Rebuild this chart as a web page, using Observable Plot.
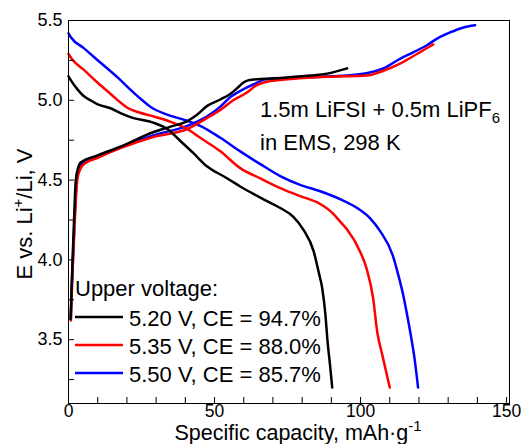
<!DOCTYPE html>
<html>
<head>
<meta charset="utf-8">
<script src="https://cdn.jsdelivr.net/npm/d3@7"></script>
<script src="https://cdn.jsdelivr.net/npm/@observablehq/plot@0.6"></script>
<style>
  html, body { margin: 0; padding: 0; background: #fff; }
  #chart { width: 521px; height: 444px; }
  svg text { font-family: "Liberation Sans", Arial, sans-serif; }
</style>
</head>
<body>
<div id="chart"></div>
<script>
// ---- Data (capacity mAh/g, E in V) ----
const seriesNames = ["5.20 V", "5.35 V", "5.50 V"];
const ceValues = ["94.7%", "88.0%", "85.7%"];
const seriesColors = ["#000000", "#ff0000", "#0000ff"];

const charge520 = [[0.7,3.63],[1.1,3.85],[1.5,4.05],[2.0,4.3],[2.5,4.5],[3.2,4.57],[4.2,4.61],[10,4.655],[17.8,4.71],[29,4.80],[35,4.835],[40.7,4.87],[44,4.91],[47.5,4.965],[52,5.005],[55.4,5.04],[58,5.08],[59.8,5.11],[61.5,5.125],[63.3,5.13],[72.5,5.14],[82.8,5.155],[88.6,5.167],[95.4,5.20]];
const charge535 = [[0.8,3.62],[1.2,3.85],[1.7,4.05],[2.3,4.3],[3.0,4.5],[3.8,4.56],[5,4.595],[10,4.64],[17.8,4.70],[29,4.77],[40.7,4.82],[47.5,4.89],[52,4.94],[56.4,5.0],[61.2,5.05],[64,5.09],[66.5,5.11],[69,5.12],[77,5.135],[90,5.148],[102,5.155],[107.8,5.185],[113.5,5.23],[119.3,5.29],[124.9,5.35]];
const charge550 = [[0.8,3.63],[1.2,3.85],[1.6,4.05],[2.2,4.3],[2.8,4.5],[3.6,4.57],[4.7,4.60],[10,4.645],[17.8,4.705],[29,4.78],[40.7,4.84],[47.5,4.9],[52,4.96],[55.4,5.02],[60,5.07],[64.6,5.11],[67,5.13],[77,5.14],[90,5.15],[102,5.17],[107.8,5.20],[113.5,5.26],[118,5.30],[122.7,5.345],[126.5,5.39],[130.6,5.425],[135,5.455],[139.2,5.47]];

const discharge520 = [[0,5.15],[1,5.12],[3,5.07],[5,5.03],[7.5,5.0],[10,4.975],[14.4,4.95],[17.8,4.92],[22,4.89],[29,4.86],[33.8,4.82],[38.3,4.745],[42.7,4.67],[47.5,4.585],[50,4.555],[52,4.535],[54.4,4.51],[58.8,4.46],[65.7,4.39],[72.5,4.325],[77,4.27],[80.4,4.19],[84,4.05],[85.7,3.92],[86.9,3.82],[88,3.65],[88.6,3.51],[89.5,3.35],[90.3,3.2]];
const discharge535 = [[0,5.29],[1.3,5.255],[5,5.195],[10,5.11],[15,5.03],[17.5,4.99],[20,4.955],[24,4.925],[29,4.9],[35,4.865],[40.7,4.82],[45.1,4.765],[52,4.68],[58.8,4.575],[65.7,4.51],[72.5,4.45],[79.3,4.40],[86.2,4.35],[90.6,4.29],[93,4.24],[95.4,4.19],[99.9,4.05],[102,3.95],[104.3,3.76],[105.7,3.55],[107.5,3.4],[110,3.2]];
const discharge550 = [[0,5.42],[1,5.39],[5,5.33],[11,5.235],[17,5.14],[21,5.07],[24,5.02],[28,4.96],[33.8,4.91],[40,4.875],[45.1,4.84],[52,4.765],[58.8,4.68],[65.7,4.60],[72.5,4.525],[79.3,4.47],[86.2,4.43],[93,4.38],[98.8,4.325],[103.3,4.26],[106.7,4.18],[111,4.03],[113,3.9],[114.6,3.78],[116,3.65],[117,3.55],[118.5,3.38],[119.7,3.2]];

const capacityTickLabels = [0, 50, 100, 150];
const capacityMinorTicks = [0,10,20,30,40,50,60,70,80,90,100,110,120,130,140,150];
const voltageTickLabels = [3.5, 4.0, 4.5, 5.0, 5.5];
const voltageMinorTicks = [3.25,3.5,3.75,4.0,4.25,4.5,4.75,5.0,5.25,5.5];

// ---- Build table ----
const curves = [
  [seriesNames[0], "charge", charge520], [seriesNames[0], "discharge", discharge520],
  [seriesNames[1], "charge", charge535], [seriesNames[1], "discharge", discharge535],
  [seriesNames[2], "charge", charge550], [seriesNames[2], "discharge", discharge550]
];
const rows = [];
// draw blue first, then red, then black on top
for (const name of [seriesNames[2], seriesNames[1], seriesNames[0]]) {
  for (const [s, branch, pts] of curves) {
    if (s !== name) continue;
    for (const [cap, E] of pts) rows.push({cap, E, series: s, curve: s + " " + branch});
  }
}

const W = 521, H = 444;
const mL = 68, mR = 12, mT = 20, mB = 41;
const PW = W - mL - mR, PH = H - mT - mB;
const font = "\"Liberation Sans\", Arial, sans-serif";

const plot = Plot.plot({
  width: W,
  height: H,
  marginLeft: mL, marginRight: mR, marginTop: mT, marginBottom: mB,
  style: {fontFamily: font, fontSize: "18px", color: "#000", background: "#fff"},
  x: {domain: [0, 151]},
  y: {domain: [3.1, 5.5]},
  color: {domain: seriesNames, range: seriesColors},
  marks: [
    Plot.line(rows, {x: "cap", y: "E", z: "curve", stroke: "series", strokeWidth: 2.5, curve: "monotone-x"}),
    Plot.frame({stroke: "#000", strokeWidth: 1}),
    Plot.tickX(capacityMinorTicks, {x: d => d, insetTop: PH - 6, stroke: "#000"}),
    Plot.tickY(voltageMinorTicks, {y: d => d, insetRight: PW - 6, stroke: "#000"}),
    Plot.axisX({ticks: capacityTickLabels, tickSize: 0, tickPadding: 1, label: null, fontSize: 17.5}),
    Plot.axisY({ticks: voltageTickLabels, tickSize: 0, tickPadding: 6, label: null, fontSize: 18, tickFormat: d3.format(".1f")})
  ]
});

document.getElementById("chart").appendChild(plot);
const svg = d3.select(plot);

// Annotation text
const ann = svg.append("g").attr("font-family", font).attr("font-size", 22).attr("fill", "#000").attr("text-anchor", "start");
const t1 = ann.append("text").attr("x", 260).attr("y", 117);
t1.append("tspan").text("1.5m LiFSI + 0.5m LiPF");
t1.append("tspan").attr("font-size", 15).attr("dy", 6).text("6");
ann.append("text").attr("x", 260).attr("y", 150).text("in EMS, 298 K");

// Legend
const leg = svg.append("g").attr("font-family", font).attr("font-size", 22).attr("fill", "#000").attr("text-anchor", "start");
leg.append("text").attr("x", 75).attr("y", 296).text("Upper voltage:");
const rowY = [317, 345, 373];
seriesNames.forEach((name, i) => {
  leg.append("line").attr("x1", 75).attr("x2", 123).attr("y1", rowY[i]).attr("y2", rowY[i])
    .attr("stroke", seriesColors[i]).attr("stroke-width", 2.5);
  leg.append("text").attr("x", 129).attr("y", rowY[i] + 9).text(`${name}, CE = ${ceValues[i]}`);
});

// Axis titles
const xt = svg.append("text").attr("font-family", font).attr("font-size", 21.5).attr("fill", "#000")
  .attr("x", 298).attr("y", 440).attr("text-anchor", "middle");
xt.append("tspan").text("Specific capacity, mAh·g");
xt.append("tspan").attr("font-size", 15).attr("dy", -9).text("-1");

const yt = svg.append("text").attr("font-family", font).attr("font-size", 22).attr("fill", "#000")
  .attr("transform", "translate(32,214) rotate(-90)").attr("text-anchor", "middle");
yt.append("tspan").text("E vs. Li");
yt.append("tspan").attr("font-size", 15).attr("dy", -9).text("+");
yt.append("tspan").attr("dy", 9).text("/Li, V");
</script>
</body>
</html>
